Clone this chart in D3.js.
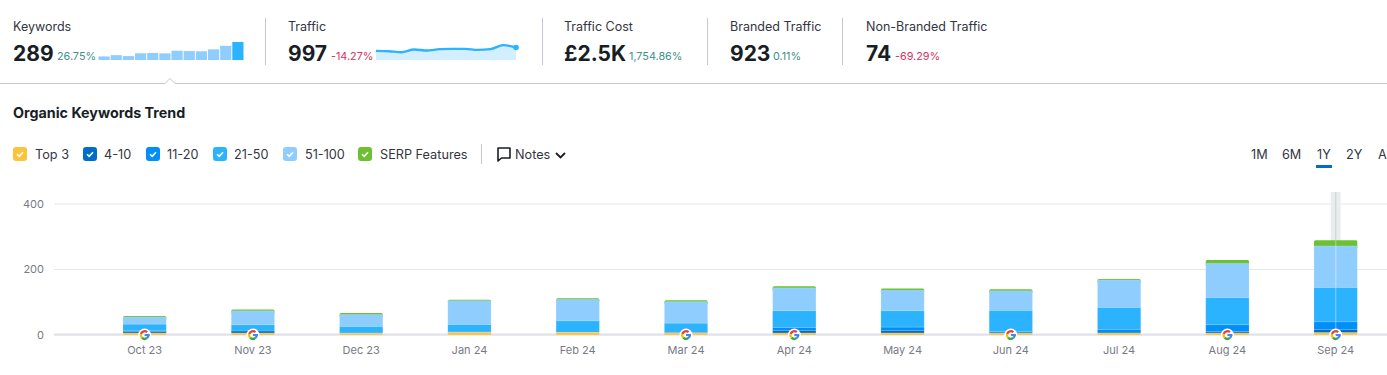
<!DOCTYPE html>
<html>
<head>
<meta charset="utf-8">
<script src="https://cdn.jsdelivr.net/npm/d3@7"></script>
<style>
  html, body { margin: 0; background: #fff; overflow: hidden; }
  svg { display: block; font-family: Inter, "Noto Sans", sans-serif; }
  .axis path { display: none; }
</style>
</head>
<body>
<svg></svg>
<script>
const months = ['Oct 23','Nov 23','Dec 23','Jan 24','Feb 24','Mar 24','Apr 24','May 24','Jun 24','Jul 24','Aug 24','Sep 24']
const top3     = [6, 6, 5, 8, 8, 6, 6, 6, 6, 6, 6, 7]
const pos4to10 = [5, 6, 0, 0, 0, 1, 8, 8, 0, 0, 4, 10]
const pos11to20 = [3, 0, 1, 1, 0, 1, 9, 10, 4, 11, 21, 23]
const pos21to50 = [19, 19, 20, 23, 35, 28, 51, 50, 65, 67, 83, 105]
const pos51to100 = [22, 43, 37, 73, 66, 66, 70, 63, 60, 84, 105, 127]
const serp     = [3, 4, 4, 3, 3, 4, 5, 5, 5, 3, 10, 17]
const googleMonths = ['Oct 23','Nov 23','Mar 24','Apr 24','Jun 24','Aug 24','Sep 24']
const yTicks = [0, 200, 400]

const keywordTotals = [57, 78, 63, 108, 113, 106, 149, 143, 140, 171, 228, 289]
const trafficValues = [729, 702, 621, 837, 756, 864, 891, 891, 810, 864, 1188, 997]

const kpiNames = ['Keywords','Traffic','Traffic Cost','Branded Traffic','Non-Branded Traffic']
const kpiValues = ['289','997','£2.5K','923','74']
const kpiChanges = ['26.75%','-14.27%','1,754.86%','0.11%','-69.29%']

const legendNames = ['Top 3','4-10','11-20','21-50','51-100','SERP Features']
const rangeNames = ['1M','6M','1Y','2Y','A']

const width = 1387, height = 375
const svg = d3.select('svg').attr('width', width).attr('height', height)

const colors = ['#fdc33c','#006dca','#008ff8','#2bb3ff','#8fcdff','#6cc133']
const textColor = '#333642', strong = '#181e25', green = '#3f8f8b', red = '#d1355f', rule = '#c4c7cf'

// header kpis
const kpiX = [13, 288, 564, 730, 866]
const changeX = [57, 331, 629, 773, 895]
kpiNames.forEach((name, i) => {
  svg.append('text').attr('x', kpiX[i]).attr('y', 31).attr('font-size', 12.5).attr('fill', textColor).text(name)
  svg.append('text').attr('x', kpiX[i]).attr('y', 60.5).attr('font-size', 21).attr('font-weight', 700).attr('fill', strong).text(kpiValues[i])
  svg.append('text').attr('x', changeX[i]).attr('y', 60).attr('font-size', 10.8)
    .attr('fill', kpiChanges[i][0] === '-' ? red : green).text(kpiChanges[i])
})
svg.selectAll('.sep').data([265, 542, 707, 842]).enter().append('line').attr('class', 'sep')
  .attr('x1', d => d + .5).attr('x2', d => d + .5).attr('y1', 18).attr('y2', 65).attr('stroke', rule)

// keyword spark
const sparkX = d3.scaleBand().domain(months).range([98.5, 243.5]).paddingInner(.08)
const sparkY = d3.scaleLinear().domain([0, 289]).range([60, 42])
svg.append('g').selectAll('rect').data(keywordTotals).enter().append('rect')
  .attr('x', (d, i) => sparkX(months[i]))
  .attr('y', d => sparkY(d))
  .attr('width', sparkX.bandwidth())
  .attr('height', d => 60 - sparkY(d))
  .attr('fill', (d, i) => i === 11 ? '#2bb3ff' : '#8fcdff')

// traffic spark
const trafficX = d3.scalePoint().domain(months).range([376, 516])
const trafficY = d3.scaleLinear().domain([0, 997]).range([60, 47.5])
svg.append('path').datum(trafficValues).attr('fill', '#d3efff')
  .attr('d', d3.area().x((d, i) => trafficX(months[i])).y0(60).y1(d => trafficY(d)).curve(d3.curveMonotoneX))
svg.append('path').datum(trafficValues).attr('fill', 'none').attr('stroke', '#2bb3ff').attr('stroke-width', 2.4)
  .attr('d', d3.line().x((d, i) => trafficX(months[i])).y(d => trafficY(d)).curve(d3.curveMonotoneX))
svg.append('circle').attr('cx', trafficX(months[11])).attr('cy', trafficY(997)).attr('r', 2.8).attr('fill', '#2bb3ff')

// divider with the little notch
svg.append('path').attr('fill', 'none').attr('stroke', rule)
  .attr('d', 'M0 83.5H165L170 78.5L175 83.5H1387')

svg.append('text').attr('x', 13).attr('y', 118).attr('font-size', 14.3).attr('font-weight', 700).attr('fill', strong)
  .text('Organic Keywords Trend')

// legend
const boxX = [13, 83, 146, 213, 283, 358]
const labelX = [35, 104, 167, 234, 305, 380]
legendNames.forEach((name, i) => {
  svg.append('rect').attr('x', boxX[i]).attr('y', 147).attr('width', 14).attr('height', 14).attr('rx', 3).attr('fill', colors[i])
  svg.append('path').attr('transform', `translate(${boxX[i]},147)`).attr('fill', 'none').attr('stroke', '#fff').attr('stroke-width', 1.6)
    .attr('d', 'M4 7.2L6.2 9.4L10 5.2')
  svg.append('text').attr('x', labelX[i]).attr('y', 158.5).attr('font-size', 12.7).attr('fill', textColor).text(name)
})
svg.append('line').attr('x1', 481.5).attr('x2', 481.5).attr('y1', 144).attr('y2', 164).attr('stroke', rule)
svg.append('path').attr('fill', 'none').attr('stroke', strong).attr('stroke-width', 1.6).attr('stroke-linejoin', 'round')
  .attr('d', 'M498 148H510V158H501.5L498 161Z')
svg.append('text').attr('x', 515).attr('y', 158.5).attr('font-size', 12.7).attr('fill', textColor).text('Notes')
svg.append('path').attr('fill', 'none').attr('stroke', strong).attr('stroke-width', 1.8)
  .attr('d', 'M556 153L560.5 157.5L565 153')

// range switch
const rangeX = [1251, 1282, 1317, 1346, 1378]
rangeNames.forEach((name, i) => {
  svg.append('text').attr('x', rangeX[i]).attr('y', 158.5).attr('font-size', 12.7).attr('fill', textColor).text(name)
})
svg.append('rect').attr('x', 1316).attr('y', 165).attr('width', 16).attr('height', 3).attr('fill', '#006dca')

// main chart
const xScale = d3.scaleBand().domain(months).range([90.5, 1389.8]).paddingInner(.6).paddingOuter(.3)
const yScale = d3.scaleLinear().domain([0, 400]).range([335, 204])

const yAxis = d3.axisLeft(yScale).tickValues(yTicks).tickSize(-(width - 54)).tickPadding(10)
svg.append('g').attr('class', 'axis').attr('transform', 'translate(54,-0.5)').call(yAxis)
  .call(g => g.selectAll('line').attr('stroke', '#e6e7ec'))
  .call(g => g.selectAll('text').attr('font-size', 11).attr('font-family', 'Inter').attr('fill', '#777a86'))
svg.append('line').attr('x1', 54).attr('x2', width).attr('y1', 334.5).attr('y2', 334.5).attr('stroke', '#e0e1e9').attr('stroke-width', 2)

const xAxis = d3.axisBottom(xScale).tickSize(0).tickPadding(11)
svg.append('g').attr('class', 'axis').attr('transform', 'translate(0,335)').call(xAxis)
  .call(g => g.selectAll('text').attr('font-size', 11).attr('font-family', 'Inter').attr('fill', '#777a86'))

// hover band on the last month
const hoverX = xScale(months[11]) + xScale.bandwidth() / 2
svg.append('rect').attr('x', hoverX - 5).attr('y', 192).attr('width', 10).attr('height', 143).attr('fill', '#e9eded')
svg.append('line').attr('x1', hoverX).attr('x2', hoverX).attr('y1', 192).attr('y2', 335).attr('stroke', '#d3d8d8').attr('stroke-width', 1.5)

const rows = months.map((m, i) => ({ month: m, a: top3[i], b: pos4to10[i], c: pos11to20[i], d: pos21to50[i], e: pos51to100[i], f: serp[i] }))
const stacked = d3.stack().keys(['a','b','c','d','e','f'])(rows)

// drawn top layer first so only the upper corners of the green stay rounded
const layers = svg.append('g').selectAll('g').data(stacked.slice().reverse()).enter().append('g')
  .attr('fill', d => colors[d.index])
layers.selectAll('rect').data(d => d.map(v => ({ v: v, top: d.index === 5 }))).enter().append('rect')
  .attr('x', d => xScale(d.v.data.month))
  .attr('y', d => yScale(d.v[1]))
  .attr('width', xScale.bandwidth())
  .attr('height', d => yScale(d.v[0]) - yScale(d.v[1]) + (d.top ? 3 : 0))
  .attr('rx', d => d.top ? 1.5 : 0)
layers.filter(d => d.index !== 5).selectAll('rect')
  .attr('stroke', '#fff').attr('stroke-opacity', .18).attr('stroke-width', .8)

svg.append('line').attr('x1', hoverX).attr('x2', hoverX).attr('y1', yScale(289)).attr('y2', 335)
  .attr('stroke', '#fff').attr('stroke-opacity', .3).attr('stroke-width', 1.5)

// google markers on the axis
const marks = svg.append('g').selectAll('g').data(googleMonths).enter().append('g')
  .attr('transform', d => `translate(${xScale(d) + xScale.bandwidth() / 2},335)`)
marks.append('circle').attr('r', 6.5).attr('fill', '#fff')
const gArc = d3.arc().innerRadius(2.7).outerRadius(5)
const gParts = [
  { startAngle: 1.57, endAngle: 2.45, color: '#4285f4' },
  { startAngle: 2.45, endAngle: 3.95, color: '#34a853' },
  { startAngle: 3.95, endAngle: 5.0, color: '#fbbc05' },
  { startAngle: 5.0, endAngle: 7.0, color: '#ea4335' }
]
marks.selectAll('path').data(gParts).enter().append('path')
  .attr('d', d => gArc(d)).attr('fill', d => d.color)
marks.append('rect').attr('x', 0).attr('y', -1).attr('width', 5).attr('height', 2).attr('fill', '#4285f4')
</script>
</body>
</html>
